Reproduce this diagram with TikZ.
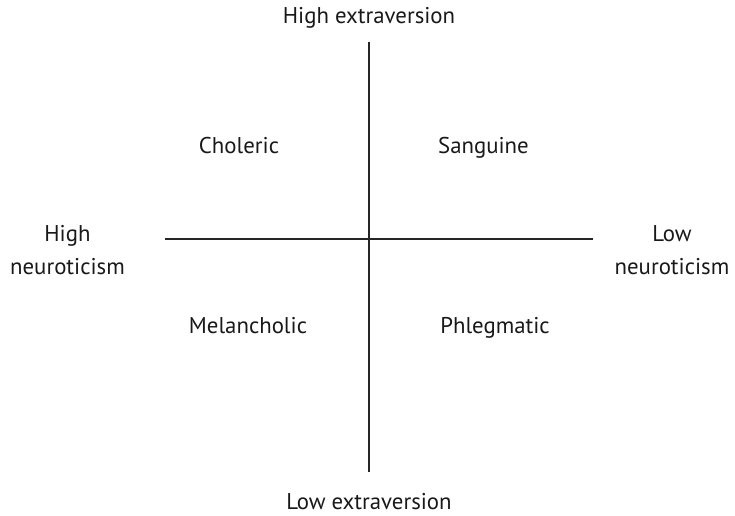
\documentclass[tikz,border=0pt]{standalone}
\usepackage{fontspec}
\setmainfont{PT Sans}
\begin{document}
\begin{tikzpicture}[x=1pt,y=-1pt,
  axis/.style={draw=black!85,line width=1.2pt},
  lbl/.style={font=\fontsize{22.8}{32.3}\selectfont,align=center,inner sep=0pt,
    anchor=base,text=black!90}]
\useasboundingbox (0,0) rectangle (735,515);
% quadrant axes
\coordinate (top) at (369,42);
\coordinate (bot) at (369,472);
\coordinate (lft) at (165,239);
\coordinate (rgt) at (593,239);
\draw[axis] (top) -- (bot);
\draw[axis] (lft) -- (rgt);
% axis labels (placed by the baseline of their last line)
\node[lbl] (hext) at (369,23.3) {High extraversion};
\node[lbl] (lext) at (369,509.3) {Low extraversion};
\node[lbl] (hneu) at (67.5,274) {High\\neuroticism};
\node[lbl] (lneu) at (672,274) {Low\\neuroticism};
% temperaments
\node[lbl] (chol) at (239,153) {Choleric};
\node[lbl] (sang) at (483.5,153) {Sanguine};
\node[lbl] (mela) at (248,333) {Melancholic};
\node[lbl] (phle) at (495,333) {Phlegmatic};
\end{tikzpicture}
\end{document}
